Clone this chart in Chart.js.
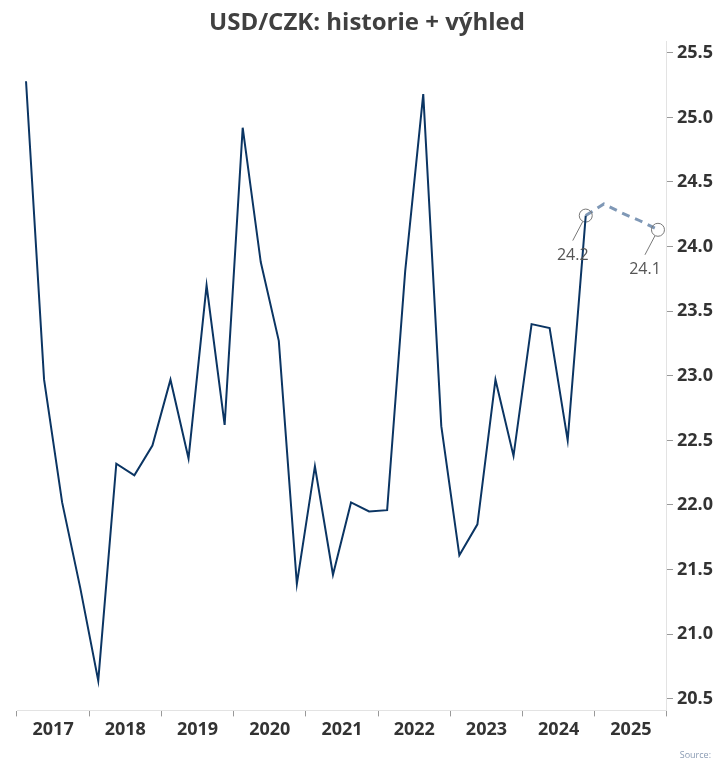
<!DOCTYPE html>
<html>
<head>
<meta charset="utf-8">
<script src="https://cdn.jsdelivr.net/npm/chart.js@4.4.1/dist/chart.umd.min.js"></script>
<style>
  html, body { margin: 0; padding: 0; background: #fff; }
  #wrap { width: 721px; height: 759px; position: relative; }
</style>
</head>
<body>
<div id="wrap"><canvas id="lineChart"></canvas></div>
<script>
// year labels shown on the axis
const years = ["2017", "2018", "2019", "2020", "2021", "2022", "2023", "2024", "2025"];

// quarterly categories (hidden axis the lines are plotted on)
const quarters = [
  "2017Q1", "2017Q2", "2017Q3", "2017Q4",
  "2018Q1", "2018Q2", "2018Q3", "2018Q4",
  "2019Q1", "2019Q2", "2019Q3", "2019Q4",
  "2020Q1", "2020Q2", "2020Q3", "2020Q4",
  "2021Q1", "2021Q2", "2021Q3", "2021Q4",
  "2022Q1", "2022Q2", "2022Q3", "2022Q4",
  "2023Q1", "2023Q2", "2023Q3", "2023Q4",
  "2024Q1", "2024Q2", "2024Q3", "2024Q4",
  "2025Q1", "2025Q2", "2025Q3", "2025Q4",
];

// USD/CZK history
const history = [
  25.28, 22.97, 22.02, 21.36,
  20.64, 22.32, 22.23, 22.46,
  22.97, 22.36, 23.70, 22.62,
  24.92, 23.88, 23.27, 21.39,
  22.30, 21.46, 22.02, 21.95,
  21.96, 23.81, 25.18, 22.61,
  21.61, 21.85, 22.97, 22.38,
  23.40, 23.37, 22.50, 24.24,
  null, null, null, null,
];

// outlook (starts from last history point)
const outlook = [
  null, null, null, null,
  null, null, null, null,
  null, null, null, null,
  null, null, null, null,
  null, null, null, null,
  null, null, null, null,
  null, null, null, null,
  null, null, null, 24.24,
  24.33, 24.26, 24.20, 24.13,
];

// points that get a circle + value label
const labelled = ["2024Q4", "2025Q4"];

// y axis ticks
const yTicks = [20.5, 21.0, 21.5, 22.0, 22.5, 23.0, 23.5, 24.0, 24.5, 25.0, 25.5];

const isMarked = (i) => labelled.includes(quarters[i]);

const labelPlugin = {
  id: "valueLabels",
  afterDatasetsDraw(chart) {
    const ctx = chart.ctx;
    const meta = chart.getDatasetMeta(1);
    ctx.save();
    labelled.forEach((q) => {
      const i = quarters.indexOf(q);
      const pt = meta.data[i];
      if (!pt) return;
      ctx.strokeStyle = "#777";
      ctx.lineWidth = 1;
      ctx.beginPath();
      ctx.moveTo(pt.x - 3, pt.y + 6);
      ctx.lineTo(pt.x - 13, pt.y + 25);
      ctx.stroke();
      ctx.fillStyle = "#555";
      ctx.font = "16px 'Open Sans'";
      ctx.textAlign = "center";
      ctx.textBaseline = "middle";
      ctx.fillText(outlook[i].toFixed(1), pt.x - 13, pt.y + 40);
    });
    ctx.restore();
  },
  afterDraw(chart) {
    const ctx = chart.ctx;
    ctx.save();
    ctx.fillStyle = "#8a9bb3";
    ctx.font = "9px 'Open Sans'";
    ctx.textAlign = "right";
    ctx.textBaseline = "middle";
    ctx.fillText("Source:", 711, 755);
    ctx.restore();
  },
};

const ctx = document.getElementById("lineChart").getContext("2d");
new Chart(ctx, {
  type: "line",
  data: {
    labels: quarters,
    datasets: [
      {
        label: "Historie",
        data: history,
        borderColor: "#0b3563",
        borderWidth: 2,
        pointRadius: 0,
        fill: false,
        tension: 0,
      },
      {
        label: "Výhled",
        data: outlook,
        borderColor: "#7f98b6",
        borderWidth: 3,
        borderDash: [8, 6],
        pointRadius: (c) => (isMarked(c.dataIndex) ? 6.5 : 0),
        pointBorderColor: "#777",
        pointBackgroundColor: "rgba(0,0,0,0)",
        pointBorderWidth: 1,
        fill: false,
        tension: 0,
      },
    ],
  },
  options: {
    responsive: true,
    maintainAspectRatio: false,
    animation: false,
    layout: { padding: { left: 17, right: 4, bottom: 15, top: 0 } },
    plugins: {
      legend: { display: false },
      tooltip: { enabled: false },
      title: {
        display: true,
        text: "USD/CZK: historie + výhled",
        color: "#404040",
        font: { family: "'Open Sans'", size: 24, weight: "bold", lineHeight: 1.2 },
        padding: { top: 9, bottom: 4 },
      },
    },
    scales: {
      x: {
        type: "category",
        display: false,
        offset: true,
      },
      xYears: {
        type: "category",
        position: "bottom",
        labels: years,
        offset: true,
        grid: {
          offset: true,
          drawOnChartArea: false,
          drawTicks: true,
          tickLength: 6,
          color: "#999",
        },
        border: { color: "#e3e3e3" },
        ticks: {
          autoSkip: false,
          maxRotation: 0,
          padding: 3,
          color: "#333",
          font: { family: "'Open Sans'", size: 18, weight: "bold" },
        },
      },
      y: {
        type: "linear",
        position: "right",
        min: 20.41,
        max: 25.585,
        afterBuildTicks: (scale) => {
          scale.ticks = yTicks.map((v) => ({ value: v }));
        },
        grid: {
          drawOnChartArea: false,
          drawTicks: true,
          tickLength: 6,
          color: "#999",
        },
        border: { color: "#e3e3e3" },
        ticks: {
          padding: 4,
          color: "#333",
          font: { family: "'Open Sans'", size: 18, weight: "bold" },
          callback: (v) => Number(v).toFixed(1),
        },
      },
    },
  },
  plugins: [labelPlugin],
});
</script>
</body>
</html>
